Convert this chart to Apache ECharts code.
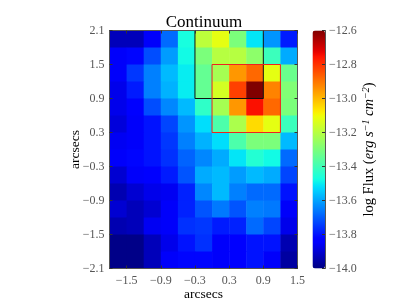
<!DOCTYPE html>
<html><head><meta charset="utf-8">
<script src="https://cdn.jsdelivr.net/npm/echarts@6/dist/echarts.min.js"></script>
<style>html,body{margin:0;padding:0;background:#fff}#c{width:399px;height:299px}</style></head>
<body><div id="c"></div>
<script>
const xCenters=[-1.65,-1.35,-1.05,-0.75,-0.45,-0.15,0.15,0.45,0.75,1.05,1.35];
const yCenters=[1.95,1.65,1.35,1.05,0.75,0.45,0.15,-0.15,-0.45,-0.75,-1.05,-1.35,-1.65,-1.95];
const xTicks=[-1.5,-0.9,-0.3,0.3,0.9,1.5];
const yTicks=[-2.1,-1.5,-0.9,-0.3,0.3,0.9,1.5,2.1];
const fluxRows=[
[-13.93,-13.93,-13.85,-13.68,-13.47,-13.19,-13.12,-13.30,-13.51,-13.62,-13.79],
[-13.85,-13.82,-13.72,-13.61,-13.48,-13.30,-13.20,-13.20,-13.27,-13.41,-13.59],
[-13.85,-13.75,-13.65,-13.57,-13.50,-13.34,-13.23,-12.95,-12.88,-13.12,-13.33],
[-13.87,-13.79,-13.65,-13.58,-13.50,-13.34,-13.15,-12.82,-12.60,-12.92,-13.29],
[-13.87,-13.83,-13.72,-13.64,-13.57,-13.43,-13.23,-12.95,-12.75,-12.88,-13.30],
[-13.89,-13.85,-13.80,-13.73,-13.62,-13.52,-13.38,-13.22,-13.05,-13.12,-13.41],
[-13.86,-13.85,-13.80,-13.75,-13.65,-13.58,-13.52,-13.38,-13.30,-13.30,-13.57],
[-13.85,-13.82,-13.80,-13.76,-13.69,-13.64,-13.59,-13.51,-13.45,-13.48,-13.68],
[-13.90,-13.85,-13.83,-13.79,-13.71,-13.59,-13.57,-13.61,-13.57,-13.59,-13.73],
[-13.94,-13.90,-13.87,-13.86,-13.78,-13.64,-13.57,-13.65,-13.68,-13.68,-13.80],
[-13.90,-13.93,-13.90,-13.85,-13.78,-13.71,-13.66,-13.71,-13.65,-13.66,-13.85],
[-13.94,-13.93,-13.86,-13.85,-13.76,-13.75,-13.79,-13.78,-13.68,-13.73,-13.87],
[-13.99,-13.99,-13.93,-13.87,-13.80,-13.76,-13.85,-13.83,-13.80,-13.80,-13.94],
[-13.99,-13.99,-13.93,-13.85,-13.82,-13.82,-13.85,-13.83,-13.80,-13.85,-13.96]];
const blackBox=[[-0.3,2.1],[-0.3,0.9],[0.9,0.9],[0.9,2.1]];
const redBox=[[0,1.5],[0,0.3],[1.2,0.3],[1.2,1.5],[0,1.5]];
const clamp=v=>Math.max(0,Math.min(1,v));
const jetAt=t=>{
 const r=t<0.89?clamp((t-0.35)/0.31):1-(t-0.89)/0.11*0.5;
 const g=t<0.64?clamp((t-0.125)/0.25):clamp(1-(t-0.64)/0.27);
 const b=t<0.34?clamp(0.5+t/0.11*0.5):clamp(1-(t-0.34)/0.31);
 return 'rgb('+[r,g,b].map(c=>Math.round(c*255)).join(',')+')';
};
const jet=[];for(let i=0;i<=64;i++)jet.push(jetAt(i/64));
const cells=[];
fluxRows.forEach((r,j)=>r.forEach((v,i)=>cells.push([xCenters[i],yCenters[j],v])));
const FF='"Liberation Serif"';
const fmt=v=>Number(v).toFixed(1).replace('-','\u2212');
const lineC='#555';
const mainAxisX=(pos,lab)=>({type:'value',gridIndex:0,position:pos,min:-1.8,max:1.5,splitLine:{show:false},
 axisLine:{show:true,onZero:false,lineStyle:{color:lineC,width:1}},
 axisTick:{show:true,inside:true,length:3,customValues:xTicks,lineStyle:{color:'#333'}},
 axisLabel:{show:lab,customValues:xTicks,formatter:fmt,fontFamily:FF,fontSize:12,color:'#555',margin:6,hideOverlap:false,showMinLabel:true,showMaxLabel:true},
 z:10});
const mainAxisY=(pos,lab)=>({type:'value',gridIndex:0,position:pos,min:-2.1,max:2.1,splitLine:{show:false},
 axisLine:{show:true,onZero:false,lineStyle:{color:lineC,width:1}},
 axisTick:{show:true,inside:true,length:3,customValues:yTicks,lineStyle:{color:'#333'}},
 axisLabel:{show:lab,customValues:yTicks,formatter:fmt,fontFamily:FF,fontSize:12,color:'#555',margin:5,hideOverlap:false,showMinLabel:true,showMaxLabel:true},
 z:10});
const chart=echarts.init(document.getElementById('c'),null,{renderer:'canvas'});
chart.setOption({
 animation:false,backgroundColor:'#fff',
 title:{text:'Continuum',left:204,top:9,textAlign:'center',padding:[5,0],textStyle:{fontFamily:FF,fontSize:17,fontWeight:'normal',color:'#000'}},
 grid:[{left:109.5,top:30.5,width:188,height:238,outerBoundsMode:'none'},{left:312.5,top:30.5,width:12.5,height:238,outerBoundsMode:'none'}],
 xAxis:[Object.assign(mainAxisX('bottom',true),{name:'arcsecs',nameLocation:'middle',nameGap:19,nameMoveOverlap:false,nameTextStyle:{fontFamily:FF,fontSize:13.5,color:'#000'}}),
  mainAxisX('top',false),
  {type:'value',gridIndex:1,show:false,min:0,max:1}],
 yAxis:[Object.assign(mainAxisY('left',true),{name:'arcsecs',nameLocation:'middle',nameGap:27,nameMoveOverlap:false,nameRotate:90,nameTextStyle:{fontFamily:FF,fontSize:13.5,color:'#000'}}),
  mainAxisY('right',false),
  {type:'value',gridIndex:1,position:'right',min:-14,max:-12.6,interval:0.2,splitLine:{show:false},
   axisLine:{show:true,onZero:false,lineStyle:{color:lineC}},
   axisTick:{show:true,inside:true,length:3,lineStyle:{color:'#333'}},
   axisLabel:{formatter:fmt,fontFamily:FF,fontSize:12,color:'#555',margin:4,showMinLabel:true,showMaxLabel:true},
   z:10,
   name:'{n|log Flux (}{i|erg s}{s|\u22121}{i| cm}{s|\u22122}{n|)}',nameLocation:'middle',nameGap:36,nameMoveOverlap:false,nameRotate:90,
   nameTextStyle:{rich:{n:{fontFamily:FF,fontSize:14.5,color:'#000'},i:{fontFamily:FF,fontStyle:'italic',fontSize:14.5,color:'#000'},s:{fontFamily:FF,fontStyle:'italic',fontSize:10,color:'#000',verticalAlign:'top',padding:[0,0,6,0]}}}}],
 visualMap:{type:'continuous',seriesIndex:0,dimension:2,min:-14,max:-12.6,calculable:false,realtime:false,padding:0,
  left:312.5,top:30.5,itemWidth:12.5,itemHeight:238,showLabel:false,inRange:{color:jet},z:3},
 series:[
  {type:'custom',xAxisIndex:0,yAxisIndex:0,data:cells,encode:{x:0,y:1},silent:true,z:1,
   renderItem(p,api){
    const x=api.value(0),y=api.value(1);
    const a=api.coord([x-0.15,y+0.15]),b=api.coord([x+0.15,y-0.15]);
    return {type:'rect',shape:{x:a[0],y:a[1],width:b[0]-a[0]+0.5,height:b[1]-a[1]+0.5},style:{fill:api.visual('color')}};
   }},
  {type:'line',xAxisIndex:0,yAxisIndex:0,data:blackBox,showSymbol:false,silent:true,z:5,lineStyle:{color:'#111',width:1}},
  {type:'line',xAxisIndex:0,yAxisIndex:0,data:redBox,showSymbol:false,silent:true,z:6,lineStyle:{color:'#f02020',width:1}}
 ]
});
</script></body></html>
